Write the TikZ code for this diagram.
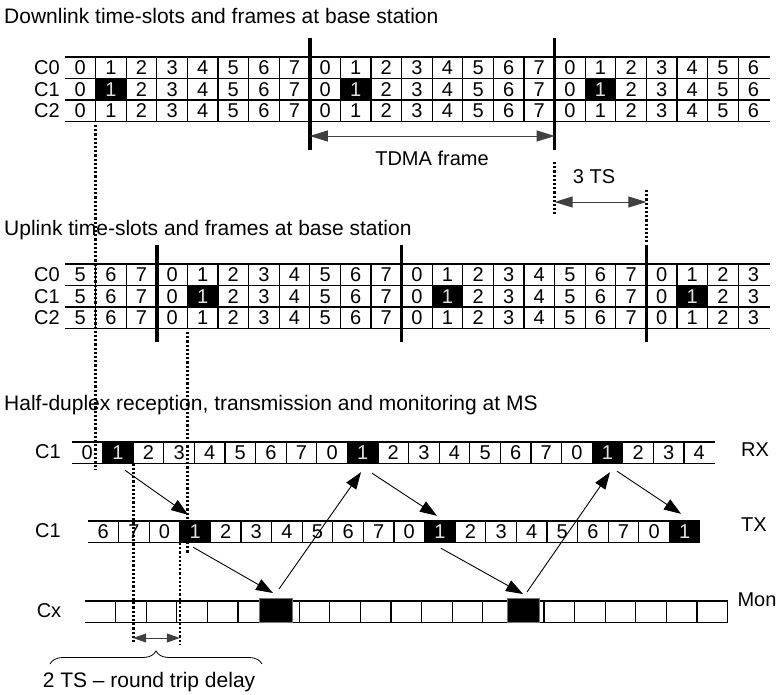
\documentclass[tikz,border=0pt]{standalone}
\usepackage{fontspec}
\setmainfont{Liberation Sans}
\usetikzlibrary{arrows.meta,decorations.pathreplacing}
\begin{document}
\begin{tikzpicture}[x=1pt,y=-1pt,
 txt/.style={font=\fontsize{20}{24}\selectfont, inner sep=0pt},
 ttl/.style={font=\fontsize{21}{25}\selectfont, inner sep=0pt},
 cell/.style={txt, minimum width=30.6pt, minimum height=21.5pt, inner sep=0pt, anchor=center},
 blk/.style={cell, fill=black, text=white!88!black},
 hl/.style={line width=1.8pt},
 sepl/.style={line width=1.3pt},
 frameline/.style={line width=3.5pt},
 dots/.style={line width=2.6pt, dash pattern=on 2.2pt off 2pt},
 arr/.style={line width=0.9pt, -{Triangle[length=17pt,width=12pt]}},
 dim/.style={line width=1pt, black!75, {Triangle[length=18pt,width=11pt]}-{Triangle[length=18pt,width=11pt]}},
 smalldim/.style={line width=1pt, black!75, {Triangle[length=13pt,width=9pt]}-{Triangle[length=13pt,width=9pt]}},
 monbox/.style={draw=black!55, fill=black, line width=1pt, minimum width=33pt, minimum height=24pt, inner sep=0pt},
]
\useasboundingbox (0,0) rectangle (777,694);

% ---------- titles ----------
\node[ttl, anchor=west] (t1) at (4,16) {Downlink time-slots and frames at base station};
\node[ttl, anchor=west] (t2) at (4,230) {Uplink time-slots and frames at base station};
\node[ttl, anchor=west] (t3) at (4,405) {Half-duplex reception, transmission and monitoring at MS};

% ---------- downlink ----------
\foreach \r in {0,1,2}{
  \foreach \k in {0,...,22}{
    \pgfmathtruncatemacro\d{mod(\k,8)}
    \pgfmathsetmacro\xc{65+(\k+0.5)*30.6}
    \pgfmathsetmacro\yc{57+(\r+0.5)*21.5}
    \pgfmathtruncatemacro\isb{and(\r==1,\d==1)}
    \ifnum\isb=1 \node[blk] (dl-\r-\k) at (\xc,\yc) {\d};
    \else \node[cell] (dl-\r-\k) at (\xc,\yc) {\d}; \fi
  }
}
\foreach \i in {0,...,3} \draw[hl] (65,{57+\i*21.5}) -- (770,{57+\i*21.5});
\foreach \k in {1,...,22} \draw[sepl] ({65+\k*30.6},57) -- ({65+\k*30.6},121.5);
\draw[frameline] (309.8,38) -- (309.8,150);
\draw[frameline] (554.6,38) -- (554.6,150);
\node[txt] (dlc0) at (47,67.75) {C0};
\node[txt] (dlc1) at (47,89.25) {C1};
\node[txt] (dlc2) at (47,110.75) {C2};
\coordinate (fa) at (309.8,136);
\coordinate (fb) at (554.6,136);
\draw[dim] (fa) -- (fb);
\node[txt] (tdma) at (432,158) {TDMA frame};

% 3 TS
\draw[dots] (554.6,162) -- (554.6,214);
\draw[dots] (646.4,190) -- (646.4,242);
\coordinate (ta) at (554.6,202);
\coordinate (tb) at (646.4,202);
\draw[dim] (ta) -- (tb);
\node[txt] (ts3) at (594,177) {3 TS};

% ---------- uplink ----------
\foreach \r in {0,1,2}{
  \foreach \k in {0,...,22}{
    \pgfmathtruncatemacro\d{mod(\k+5,8)}
    \pgfmathsetmacro\xc{65+(\k+0.5)*30.6}
    \pgfmathsetmacro\yc{264+(\r+0.5)*21.5}
    \pgfmathtruncatemacro\isb{and(\r==1,\d==1)}
    \ifnum\isb=1 \node[blk] (ul-\r-\k) at (\xc,\yc) {\d};
    \else \node[cell] (ul-\r-\k) at (\xc,\yc) {\d}; \fi
  }
}
\foreach \i in {0,...,3} \draw[hl] (65,{264+\i*21.5}) -- (770,{264+\i*21.5});
\foreach \k in {1,...,22} \draw[sepl] ({65+\k*30.6},264) -- ({65+\k*30.6},328.5);
\draw[frameline] (156.8,245) -- (156.8,342);
\draw[frameline] (401.6,245) -- (401.6,342);
\draw[frameline] (646.4,245) -- (646.4,342);
\node[txt] (ulc0) at (47,274.75) {C0};
\node[txt] (ulc1) at (47,296.25) {C1};
\node[txt] (ulc2) at (47,317.75) {C2};

% ---------- MS: RX ----------
\foreach \k in {0,...,20}{
  \pgfmathtruncatemacro\d{mod(\k,8)}
  \pgfmathsetmacro\xc{72+(\k+0.5)*30.6}
  \ifnum\d=1 \node[blk] (rx-\k) at (\xc,452.75) {\d};
  \else \node[cell] (rx-\k) at (\xc,452.75) {\d}; \fi
}
\draw[hl] (72,442) -- (714.6,442);
\draw[hl] (72,463.5) -- (714.6,463.5);
\foreach \k in {1,...,20} \draw[sepl] ({72+\k*30.6},442) -- ({72+\k*30.6},463.5);
\node[txt] (rxc) at (48,452) {C1};
\node[txt] (rxl) at (755,450) {RX};

% ---------- MS: TX ----------
\foreach \k in {0,...,19}{
  \pgfmathtruncatemacro\d{mod(\k+6,8)}
  \pgfmathsetmacro\xc{88+(\k+0.5)*30.6}
  \ifnum\d=1 \node[blk] (tx-\k) at (\xc,531.75) {\d};
  \else \node[cell] (tx-\k) at (\xc,531.75) {\d}; \fi
}
\draw[hl] (88,521) -- (700,521);
\draw[hl] (88,542.5) -- (700,542.5);
\foreach \k in {1,...,19} \draw[sepl] ({88+\k*30.6},521) -- ({88+\k*30.6},542.5);
\node[txt] (txc) at (48,531) {C1};
\node[txt] (txl) at (754,525) {TX};

% ---------- MS: Cx (monitoring) ----------
\draw[hl] (85,601) -- (727.6,601);
\draw[hl] (85,622.5) -- (727.6,622.5);
\foreach \k in {1,...,21} \draw[sepl] ({85+\k*30.6},601) -- ({85+\k*30.6},622.5);
\node[monbox] (mon1) at (275.5,610.5) {};
\node[monbox, minimum width=32pt] (mon2) at (523,610.5) {};
\node[txt] (cxc) at (49,611) {Cx};
\node[txt] (monl) at (757,600) {Mon};

% ---------- dotted timing lines ----------
\draw[dots] (95.6,125) -- (95.6,470);
\draw[dots] (187.4,332) -- (187.4,553);
\draw[dots] (133.2,463.5) -- (133.2,642);
\draw[dots] (179.8,543) -- (179.8,645);

% ---------- arrows ----------
\draw[arr] ([shift={(7,6.5)}]rx-1.south) -- ([shift={(-7,-6)}]tx-3.north);
\draw[arr] ([shift={(-2,4.5)}]tx-3.south) -- ([shift={(-2.5,-5)}]mon1.north);
\draw[arr] ([shift={(3.5,-9)}]mon1.north) -- ([shift={(-1.7,8.5)}]rx-9.south);
\draw[arr] ([shift={(9.3,9.5)}]rx-9.south) -- ([shift={(-3,-5)}]tx-11.north);
\draw[arr] ([shift={(1,5.5)}]tx-11.south) -- ([shift={(0,-4)}]mon2.north);
\draw[arr] ([shift={(4,-6)}]mon2.north) -- ([shift={(2.5,8.5)}]rx-17.south);
\draw[arr] ([shift={(9.5,7.5)}]rx-17.south) -- ([shift={(-3.7,-7)}]tx-19.north);

% ---------- round trip delay ----------
\coordinate (ra) at (133.2,638);
\coordinate (rb) at (179.8,638);
\draw[smalldim] (ra) -- (rb);
\coordinate (ba) at (50,664);
\coordinate (bb) at (262,664);
\draw[decorate, decoration={brace, amplitude=13pt}, line width=0.8pt] (ba) -- (bb);
\node[ttl] (rtd) at (149,682) {2 TS – round trip delay};
\end{tikzpicture}
\end{document}
